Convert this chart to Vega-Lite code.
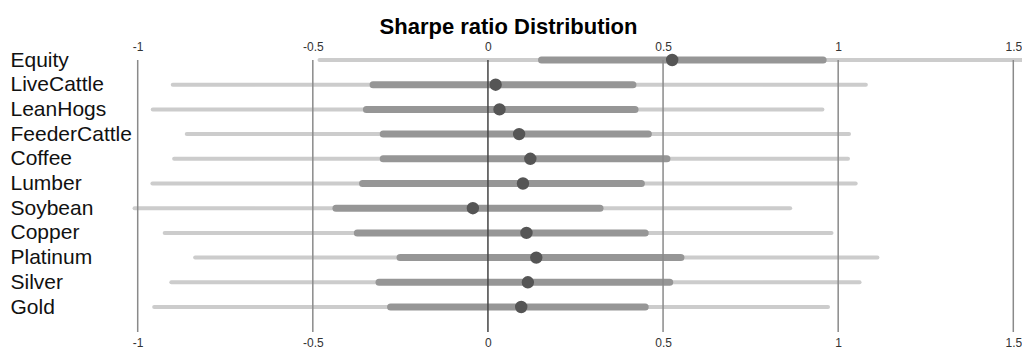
{
  "$schema": "https://vega.github.io/schema/vega-lite/v6.json",
  "autosize": {"type": "none"},
  "width": 875.6,
  "height": 272,
  "padding": {"left": 137.7, "top": 60, "right": 8.7, "bottom": 17},
  "background": "white",
  "title": {
    "text": "Sharpe ratio Distribution",
    "font": "Liberation Sans",
    "fontSize": 22,
    "fontWeight": "bold",
    "color": "#000000",
    "anchor": "middle",
    "dx": -67,
    "offset": 1
  },
  "config": {
    "view": {"stroke": null},
    "font": "Liberation Sans"
  },
  "datasets": {
    "stats": [
      {"asset": "Equity", "min": -0.481, "q1": 0.153, "med": 0.526, "q3": 0.957, "max": 1.53},
      {"asset": "LiveCattle", "min": -0.9, "q1": -0.328, "med": 0.022, "q3": 0.414, "max": 1.079},
      {"asset": "LeanHogs", "min": -0.957, "q1": -0.347, "med": 0.033, "q3": 0.42, "max": 0.955},
      {"asset": "FeederCattle", "min": -0.86, "q1": -0.299, "med": 0.089, "q3": 0.458, "max": 1.031},
      {"asset": "Coffee", "min": -0.896, "q1": -0.299, "med": 0.121, "q3": 0.511, "max": 1.028},
      {"asset": "Lumber", "min": -0.958, "q1": -0.358, "med": 0.1, "q3": 0.438, "max": 1.05},
      {"asset": "Soybean", "min": -1.009, "q1": -0.434, "med": -0.043, "q3": 0.32, "max": 0.863},
      {"asset": "Copper", "min": -0.923, "q1": -0.373, "med": 0.11, "q3": 0.449, "max": 0.981},
      {"asset": "Platinum", "min": -0.836, "q1": -0.251, "med": 0.138, "q3": 0.551, "max": 1.112},
      {"asset": "Silver", "min": -0.904, "q1": -0.311, "med": 0.114, "q3": 0.519, "max": 1.061},
      {"asset": "Gold", "min": -0.953, "q1": -0.278, "med": 0.095, "q3": 0.449, "max": 0.971}
    ],
    "ticks": [
      {"v": -1}, {"v": -0.5}, {"v": 0}, {"v": 0.5}, {"v": 1}, {"v": 1.5}
    ]
  },
  "resolve": {"axis": {"x": "independent"}},
  "layer": [
    {
      "data": {"name": "stats"},
      "mark": {"type": "rule", "color": "#cccccc", "strokeWidth": 4, "strokeCap": "round"},
      "encoding": {
        "y": {
          "field": "asset", "type": "nominal", "sort": null, "title": null,
          "scale": {"type": "point", "padding": 0.506, "align": 0},
          "axis": {
            "domain": false, "ticks": false, "tickSize": 0, "grid": false,
            "labelAlign": "left", "labelPadding": 127.7, "labelBaseline": "middle",
            "labelFont": "Liberation Sans", "labelFontSize": 21, "labelColor": "#111111", "labelLimit": 300
          }
        },
        "x": {
          "field": "min", "type": "quantitative", "title": null,
          "scale": {"domain": [-1, 1.5], "nice": false, "zero": false},
          "axis": {
            "orient": "bottom", "values": [-1, -0.5, 0, 0.5, 1, 1.5],
            "labelExpr": "'' + datum.value",
            "domain": false, "ticks": false, "tickSize": 0, "grid": false,
            "labelPadding": 5, "labelFontSize": 12, "labelColor": "#333333", "labelFont": "Liberation Sans",
            "labelFlush": false, "labelOverlap": false
          }
        },
        "x2": {"field": "max"}
      }
    },
    {
      "data": {"name": "stats"},
      "mark": {"type": "rule", "color": "#969696", "strokeWidth": 7, "strokeCap": "round"},
      "encoding": {
        "y": {"field": "asset", "type": "nominal", "sort": null},
        "x": {"field": "q1", "type": "quantitative", "axis": null},
        "x2": {"field": "q3"}
      }
    },
    {
      "data": {"name": "ticks"},
      "mark": {"type": "rule", "strokeWidth": 1.5},
      "encoding": {
        "x": {"field": "v", "type": "quantitative", "axis": null},
        "color": {
          "condition": {"test": "datum.v === 0", "value": "#444444"},
          "value": "#8a8a8a"
        }
      }
    },
    {
      "data": {"name": "stats"},
      "mark": {"type": "circle", "color": "#555555", "opacity": 1, "size": 154},
      "encoding": {
        "y": {"field": "asset", "type": "nominal", "sort": null},
        "x": {
          "field": "med", "type": "quantitative", "title": null,
          "axis": {
            "orient": "top", "values": [-1, -0.5, 0, 0.5, 1, 1.5],
            "labelExpr": "'' + datum.value",
            "domain": false, "ticks": false, "tickSize": 0, "grid": false,
            "labelPadding": 7, "labelFontSize": 12, "labelColor": "#333333", "labelFont": "Liberation Sans",
            "labelFlush": false, "labelOverlap": false
          }
        }
      }
    }
  ]
}
